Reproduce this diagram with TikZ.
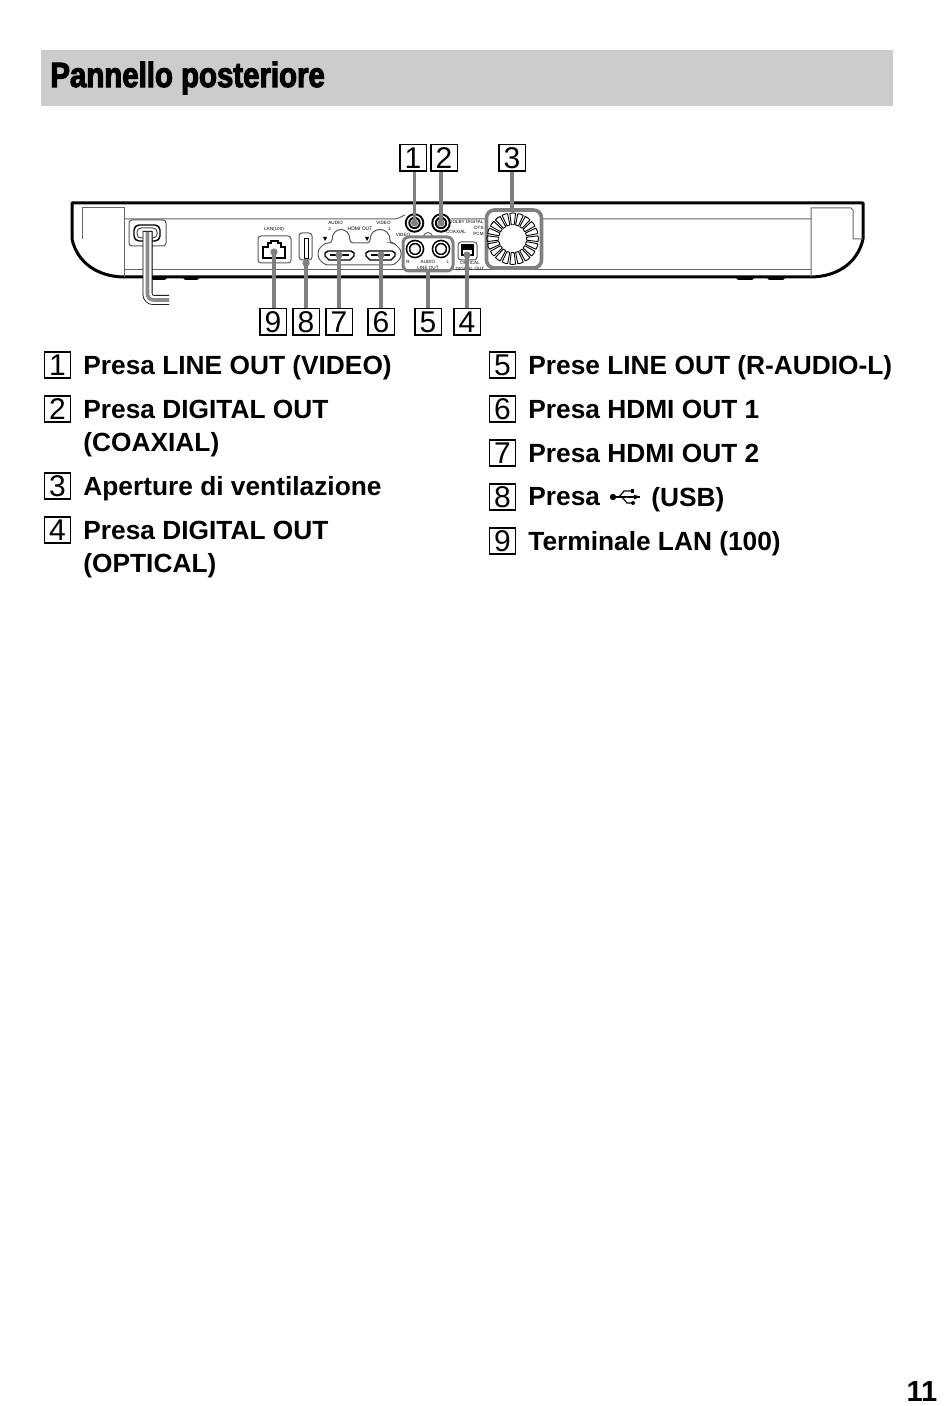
\documentclass[tikz,border=0pt]{standalone}
\usepackage{fontspec}
\usetikzlibrary{calc}
\setmainfont{Liberation Sans}
\newfontfamily\titlefont[FakeStretch=0.84,FakeBold=3]{Liberation Sans Bold}
\tikzset{%
  callout/.style  = {shape=rectangle, draw, line width=0.9pt, inner sep=0pt,%
                     minimum size=13.4pt, font=\fontsize{15}{16}\selectfont},%
  itemnum/.style  = {callout, minimum size=13pt},%
  itemtext/.style = {anchor=north west, align=left, inner sep=0pt,%
                     font=\bfseries\fontsize{13.15}{16.5}\selectfont},%
  tiny/.style     = {inner sep=0pt, align=center, font=\fontsize{2.3}{3}\selectfont},%
  leader/.style   = {draw=black!50, line width=1.6pt},%
  port/.style     = {circle, fill=black!50, inner sep=0pt, minimum size=3.6pt},%
  body/.style     = {line width=1.5pt, line join=round},%
  trim/.style     = {draw=black!60, line width=0.5pt},%
  panel/.style    = {draw=black!65, line width=0.5pt, rounded corners=1.5pt},%
  hilite/.style   = {draw=black!50, line width=1.5pt, rounded corners=3pt},%
  jack/.style     = {circle, draw, fill=white, line width=0.8pt, inner sep=0pt, minimum size=7pt,%
                     double=white, double distance=0.7pt}%
}
\begin{document}
\begin{tikzpicture}[x=0.5pt,y=-0.5pt]
	\useasboundingbox (0,0) rectangle (950,1406);
	% heading
	\fill [black!20] (41,50) rectangle (893,106);
	\node [anchor=west,inner sep=0pt,font=\titlefont\fontsize{17.5}{20}\selectfont] (title) at (50,78) {Pannello posteriore};
	% player, seen from behind
	\draw [body] (72,239) -- (72,203) -- (863,203) -- (863,239) .. controls (858,262) and (838,277) .. (810,277) -- (125,277) .. controls (97,277) and (77,262) .. (72,239);
	\draw [trim] (82,239) -- (82,208) -- (124,208) -- (124,277);
	\draw [trim] (811,277) -- (811,208) -- (851,208) -- (853,210) -- (853,239) -- (863,239);
	\draw [trim] (124,219) -- (394,219) .. controls (399,219) and (401,216) .. (405,215) (451,219) -- (485,219) (541,219) -- (811,219);
	\draw [trim] (124,270) -- (811,270);
	\foreach \xa/\xb in {150/168,182/200,735/755,766/786}
		\fill [line width=0.5pt] (\xa,277) -- (\xb,277) -- (\xb-3,280) -- (\xa+3,280) -- cycle;
	% power cord
	\draw [panel] (129,220) rectangle (166,246);
	\draw [draw=black,line width=0.7pt,rounded corners=2.5pt] (134,225) rectangle (160,241);
	\draw [draw=black!70,line width=0.5pt,rounded corners=2pt] (137,228) rectangle (157,238);
	\draw [line width=5pt,rounded corners=3pt] (147.5,231) -- (147.5,300) -- (169,300);
	\draw [white,line width=4.2pt,rounded corners=3pt] (147.5,232) -- (147.5,300) -- (170,300);
	\draw [draw=black!45,line width=1.8pt,rounded corners=3pt] (147.5,232) -- (147.5,300) -- (169,300);
	% LAN
	\node [tiny] (lanlabel) at (274,229) {LAN(100)};
	\draw [panel] (258,236) rectangle (291,263);
	\draw [line width=0.7pt] (263,258) -- (263,247) -- (268,247) -- (268,243) -- (271,243) -- (271,241) -- (278,241) -- (278,243) -- (281,243) -- (281,247) -- (285,247) -- (285,258) -- cycle;
	\coordinate (lanport) at (274,252);
	% USB
	\draw [panel] (299,233) rectangle (312,260);
	\draw [line width=0.4pt] (304,238) rectangle (308,258);
	\coordinate (usbport) at (306,263);
	% HDMI
	\draw [panel] (318,250) -- (325,243) -- (332,243) .. controls (332,226) and (350,226) .. (350,243) -- (370,243) .. controls (370,226) and (390,226) .. (390,243) -- (394,243) -- (401,250) -- (401,258) -- (394,265) -- (325,265) -- (318,258) -- cycle;
	\foreach \xa in {325,366} {
		\draw [line width=0.7pt] (\xa,253) -- (\xa+3,251) -- (\xa+26,251) -- (\xa+29,253) -- (\xa+29,256) -- (\xa+25,260) -- (\xa+4,260) -- (\xa,256) -- cycle;
		\fill (\xa+5,254) rectangle (\xa+24,256);
	}
	\foreach \xa in {325,367}
		\fill (\xa-2,237) -- (\xa+2,237) -- (\xa,241) -- cycle;
	\coordinate (hdmib) at (339,255);
	\coordinate (hdmia) at (381,255);
	\node [tiny,anchor=west,align=left] (audiolabel) at (328,226) {AUDIO\\2};
	\node [tiny,font=\fontsize{2.5}{3}\selectfont] (hdmilabel) at (360,228.5) {HDMI OUT};
	\node [tiny,anchor=east,align=right] (videolabel) at (391,226) {VIDEO\\1};
	% video and coaxial jacks
	\draw [draw=black!60,line width=0.5pt] (423,237) .. controls (425,231) and (431,231) .. (433,237);
	\node [jack,line width=1pt] (videojack) at (414.5,223) {};
	\node [jack,line width=1pt] (coaxjack) at (441,223) {};
	\node [tiny] (videotext) at (403,235) {VIDEO};
	\node [tiny] (coaxtext) at (456,232) {COAXIAL};
	% audio jacks and optical
	\draw [hilite] (403,237) rectangle (453,271);
	\node [jack] (rjack) at (415,249) {};
	\node [jack] (ljack) at (441,249) {};
	\node [tiny] (rtext) at (408,262) {R};
	\node [tiny] (audiotext) at (428,262) {AUDIO};
	\node [tiny] (ltext) at (448,262) {L};
	\node [tiny] (linetext) at (428,268) {LINE OUT};
	\draw [panel] (458,242) rectangle (477,260);
	\draw [line width=0.8pt] (462,245) rectangle (473,255);
	\fill (462,245) rectangle (473,250);
	\coordinate (optport) at (467,255);
	\node [tiny] (opttext) at (470,265.5) {OPTICAL\\DIGITAL OUT};
	\node [tiny,align=right,anchor=north east] (ventext) at (484,220) {DOLBY DIGITAL\\DTS\\PCM};
	% vent
	\draw [hilite,line width=1.8pt,rounded corners=4pt] (486.5,210) rectangle (541.5,268);
	\coordinate (vent) at (512.7,238.7);
	\foreach \a in {0,18,...,342}
		\draw [line width=0.45pt,line join=round] ($(vent)+(\a-6:14)$) -- ($(vent)+(\a-6.5:25.5)$) -- ($(vent)+(\a:25.8)$) -- ($(vent)+(\a+6.5:25.5)$) -- ($(vent)+(\a+6:14)$) -- cycle;
	% callouts
	\node [callout] (c1) at (413,158) {1};
	\node [callout] (c2) at (444,158) {2};
	\node [callout] (c3) at (512,158) {3};
	\node [callout] (c9) at (273,322) {9};
	\node [callout] (c8) at (306,322) {8};
	\node [callout] (c7) at (339,322) {7};
	\node [callout] (c6) at (381,322) {6};
	\node [callout] (c5) at (428,322) {5};
	\node [callout] (c4) at (467,322) {4};
	\draw [leader] (c1.south -| videojack) -- (videojack.center);
	\draw [leader] (c2.south -| coaxjack) -- (coaxjack.center);
	\draw [leader] (c3) -- (512,211);
	\draw [leader] (c9.north -| lanport) -- (lanport);
	\draw [leader] (c8) -- (usbport);
	\draw [leader] (c7) -- (hdmib);
	\draw [leader] (c6) -- (hdmia);
	\draw [leader] (c5) -- (428,271);
	\draw [leader] (c4) -- (optport);
	\node [port] at (lanport) {};
	\node [port] at (usbport) {};
	\node [port] at (hdmib) {};
	\node [port] at (hdmia) {};
	\node [port] at (optport) {};
	\node [port] at (videojack) {};
	\node [port] at (coaxjack) {};
	% list
	\foreach \n/\y in {1/365,2/409,3/486,4/530}
		\node [itemnum] (n\n) at (57.5,\y) {\n};
	\foreach \n/\y in {5/365,6/409,7/453,8/497,9/541}
		\node [itemnum] (n\n) at (502.5,\y) {\n};
	\node [itemtext] (t1) at (83,355) {Presa LINE OUT (VIDEO)};
	\node [itemtext] (t2) at (83,399.5) {Presa DIGITAL OUT\\(COAXIAL)};
	\node [itemtext] (t3) at (83,476) {Aperture di ventilazione};
	\node [itemtext] (t4) at (83,520.5) {Presa DIGITAL OUT\\(OPTICAL)};
	\node [itemtext] (t5) at (528,355) {Prese LINE OUT (R-AUDIO-L)};
	\node [itemtext] (t6) at (528,399.5) {Presa HDMI OUT 1};
	\node [itemtext] (t7) at (528,443.5) {Presa HDMI OUT 2};
	\node [itemtext] (t8a) at (528,487) {Presa};
	\node [itemtext] (t8b) at (651,487) {(USB)};
	\node [itemtext] (t9) at (528,531.5) {Terminale LAN (100)};
	% usb sign
	\fill (613,497) circle (3.2);
	\draw [line width=0.6pt] (613,497) -- (640,497);
	\fill (640,497) -- (634,494.5) -- (634,499.5) -- cycle;
	\draw [line width=0.6pt] (619,497) -- (624,491) -- (631,491);
	\fill (631,489) rectangle (634,493);
	\draw [line width=0.6pt] (622,497) -- (627,503) -- (632,503);
	\fill (633,503) circle (2);
	% page number
	\node [inner sep=0pt,font=\bfseries\fontsize{14.5}{15}\selectfont] (pagenum) at (922,1392) {11};
\end{tikzpicture}
\end{document}
